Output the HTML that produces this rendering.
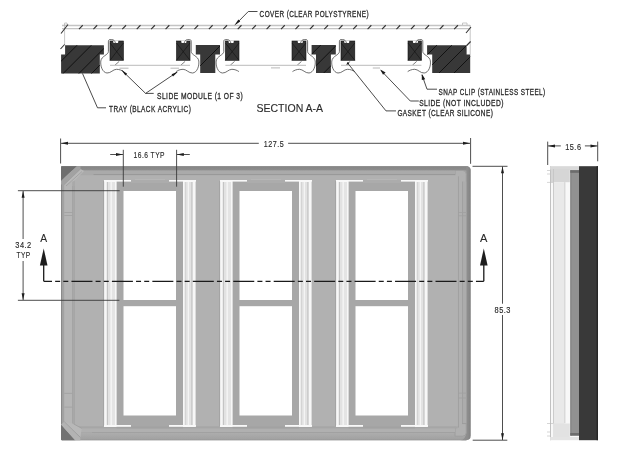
<!DOCTYPE html>
<html><head><meta charset="utf-8">
<style>
html,body{margin:0;padding:0;background:#fff;width:640px;height:457px;overflow:hidden}
svg{display:block}
text{font-family:"Liberation Sans",sans-serif;fill:#2a2a2a;stroke:#2a2a2a;stroke-width:0.3}
svg{filter:grayscale(1)}
</style></head><body>
<svg width="640" height="457" viewBox="0 0 640 457">
<defs>
</defs>

<!-- ============ SECTION A-A ============ -->
<!-- cover -->
<g stroke="#c4c4c4" stroke-width="1.3" fill="none">
<line x1="62" y1="25.5" x2="470" y2="25.5"/>
<line x1="62" y1="28.7" x2="470" y2="28.7"/>
</g>
<g stroke="#b8b8b8" stroke-width="0.8" fill="none">
<line x1="64.6" y1="24" x2="64.6" y2="45"/>
<line x1="470.2" y1="25" x2="470.2" y2="54.5"/>
<path d="M462.5,25 V23 H467 V25"/>
<path d="M64.6,25 V23 H67 V25"/>
</g>
<g stroke="#333" stroke-width="1.1" fill="none">
<path d="M79.00,29.2 L82.75,25.25 M93.43,29.2 L97.18,25.25 M107.86,29.2 L111.61,25.25 M122.29,29.2 L126.04,25.25 M136.72,29.2 L140.47,25.25 M151.15,29.2 L154.90,25.25 M165.58,29.2 L169.33,25.25 M180.01,29.2 L183.76,25.25 M194.44,29.2 L198.19,25.25 M208.87,29.2 L212.62,25.25 M223.30,29.2 L227.05,25.25 M237.73,29.2 L241.48,25.25 M252.16,29.2 L255.91,25.25 M266.59,29.2 L270.34,25.25 M281.02,29.2 L284.77,25.25 M295.45,29.2 L299.20,25.25 M309.88,29.2 L313.63,25.25 M324.31,29.2 L328.06,25.25 M338.74,29.2 L342.49,25.25 M353.17,29.2 L356.92,25.25 M367.60,29.2 L371.35,25.25 M382.03,29.2 L385.78,25.25 M396.46,29.2 L400.21,25.25 M410.89,29.2 L414.64,25.25 M425.32,29.2 L429.07,25.25 M439.75,29.2 L443.50,25.25 M454.18,29.2 L457.93,25.25 M61,33.5 L68,24.5 M466,33 L471,27 M60.5,49 L64.6,44.5 M466.7,45.5 L470.6,41.5"/>
</g>

<!-- tray blocks -->
<defs><clipPath id="ctrL"><path d="M65.1,45.3 H103.9 V54.5 H99.8 V73.4 H61.1 V54.5 H65.1 Z"/></clipPath><clipPath id="ctrR"><path d="M427.1,45.3 H466.6 V54.5 H470.2 V73 H432.2 V54.5 H427.1 Z"/></clipPath><clipPath id="ct1"><path d="M195.8,45.1 H220 V54.6 H215.3 V72.9 H200.2 V54.6 H195.8 Z"/></clipPath><clipPath id="ct2"><path d="M311.6,45.1 H335.8 V54.4 H330.9 V72.9 H316 V54.4 H311.6 Z"/></clipPath></defs>
<path d="M65.1,45.3 H103.9 V54.5 H99.8 V73.4 H61.1 V54.5 H65.1 Z" fill="#383838"/>
<path clip-path="url(#ctrL)" d="M37.3,85 L97.3,25 M51.6,85 L111.6,25 M67.4,85 L127.4,25 M80.0,85 L140.0,25" stroke="#121212" stroke-width="1" fill="none"/>
<path d="M427.1,45.3 H466.6 V54.5 H470.2 V73 H432.2 V54.5 H427.1 Z" fill="#383838"/>
<path clip-path="url(#ctrR)" d="M397.0,85 L457.0,25 M412.0,85 L472.0,25 M427.0,85 L487.0,25 M442.0,85 L502.0,25" stroke="#121212" stroke-width="1" fill="none"/>
<path d="M195.8,45.1 H220 V54.6 H215.3 V72.9 H200.2 V54.6 H195.8 Z" fill="#383838"/>
<path clip-path="url(#ct1)" d="M181.0,85 L241.0,25" stroke="#121212" stroke-width="1" fill="none"/>
<path d="M311.6,45.1 H335.8 V54.4 H330.9 V72.9 H316 V54.4 H311.6 Z" fill="#383838"/>
<path clip-path="url(#ct2)" d="M280.8,85 L340.8,25 M296.7,85 L356.7,25 M311.7,85 L371.7,25" stroke="#121212" stroke-width="1" fill="none"/>
<!-- slide module blocks -->
<g fill="#343434" stroke="#111" stroke-width="0.6">
<rect x="110" y="41" width="13.4" height="19.3"/>
<rect x="176.5" y="41" width="13.5" height="19.3"/>
<rect x="225.4" y="41" width="13.6" height="19.3"/>
<rect x="292" y="41" width="14" height="19.3"/>
<rect x="341" y="41" width="13.8" height="19.3"/>
<rect x="408" y="41" width="13.4" height="19.3"/>
</g>
<g stroke="#111" stroke-width="0.6">
<path d="M110,43 L123.4,60.3 M123.4,43 L110,60.3"/>
<path d="M176.5,43 L190,60.3 M190,43 L176.5,60.3"/>
<path d="M225.4,43 L239,60.3 M239,43 L225.4,60.3"/>
<path d="M292,43 L306,60.3 M306,43 L292,60.3"/>
<path d="M341,43 L354.8,60.3 M354.8,43 L341,60.3"/>
<path d="M408,43 L421.4,60.3 M421.4,43 L408,60.3"/>
</g>
<!-- notches -->
<g fill="#fff">
<path d="M113,40.5 L113.5,42.9 L118,42.9 L118.5,40.5 Z"/>
<path d="M228.4,40.5 L228.9,42.9 L233.4,42.9 L233.9,40.5 Z"/>
<path d="M344,40.5 L344.5,42.9 L349,42.9 L349.5,40.5 Z"/>
<path d="M181.1,40.5 L181.6,42.9 L186.1,42.9 L186.6,40.5 Z"/>
<path d="M297.5,40.5 L298,42.9 L302.5,42.9 L303,40.5 Z"/>
<path d="M412.7,40.5 L413.2,42.9 L417.7,42.9 L418.2,40.5 Z"/>
</g>
<g stroke="#555" stroke-width="0.85" fill="none">
<path d="M5.5,43.2 C4.8,40.6 3.6,39.6 1.8,39.6 L0,39.6 C-1.5,39.6 -1.6,40.8 -1.6,42 L-1.6,51.5 C-1.6,55 -8.6,56 -9.2,61 C-9.8,66 -7.5,72.6 -3,73 C1,73.2 3,69.3 6.5,69.3 C9.5,69.3 12,70.5 13.5,71.6" transform="translate(110,0)"/>
<path d="M5.5,43.2 C4.8,40.6 3.6,39.6 1.8,39.6 L0,39.6 C-1.5,39.6 -1.6,40.8 -1.6,42 L-1.6,51.5 C-1.6,55 -8.6,56 -9.2,61 C-9.8,66 -7.5,72.6 -3,73 C1,73.2 3,69.3 6.5,69.3 C9.5,69.3 12,70.5 13.5,71.6" transform="translate(225.4,0)"/>
<path d="M5.5,43.2 C4.8,40.6 3.6,39.6 1.8,39.6 L0,39.6 C-1.5,39.6 -1.6,40.8 -1.6,42 L-1.6,51.5 C-1.6,55 -8.6,56 -9.2,61 C-9.8,66 -7.5,72.6 -3,73 C1,73.2 3,69.3 6.5,69.3 C9.5,69.3 12,70.5 13.5,71.6" transform="translate(341,0)"/>
<path d="M5.5,43.2 C4.8,40.6 3.6,39.6 1.8,39.6 L0,39.6 C-1.5,39.6 -1.6,40.8 -1.6,42 L-1.6,51.5 C-1.6,55 -8.6,56 -9.2,61 C-9.8,66 -7.5,72.6 -3,73 C1,73.2 3,69.3 6.5,69.3 C9.5,69.3 12,70.5 13.5,71.6" transform="translate(189.6,0) scale(-1,1)"/>
<path d="M5.5,43.2 C4.8,40.6 3.6,39.6 1.8,39.6 L0,39.6 C-1.5,39.6 -1.6,40.8 -1.6,42 L-1.6,51.5 C-1.6,55 -8.6,56 -9.2,61 C-9.8,66 -7.5,72.6 -3,73 C1,73.2 3,69.3 6.5,69.3 C9.5,69.3 12,70.5 13.5,71.6" transform="translate(306,0) scale(-1,1)"/>
<path d="M5.5,43.2 C4.8,40.6 3.6,39.6 1.8,39.6 L0,39.6 C-1.5,39.6 -1.6,40.8 -1.6,42 L-1.6,51.5 C-1.6,55 -8.6,56 -9.2,61 C-9.8,66 -7.5,72.6 -3,73 C1,73.2 3,69.3 6.5,69.3 C9.5,69.3 12,70.5 13.5,71.6" transform="translate(421.2,0) scale(-1,1)"/>
</g>
<g stroke="#444" stroke-width="0.7">
<line x1="119.2" y1="61.4" x2="114.8" y2="65.3"/>
<line x1="234.6" y1="61.4" x2="230.20000000000002" y2="65.3"/>
<line x1="350.2" y1="61.4" x2="345.8" y2="65.3"/>
<line x1="185.1" y1="61.4" x2="180.7" y2="65.3"/>
<line x1="301.5" y1="61.4" x2="297.1" y2="65.3"/>
<line x1="416.7" y1="61.4" x2="412.3" y2="65.3"/>
</g>
<!-- slide lines -->
<g stroke="#c8c8c8" stroke-width="1.4">
<line x1="110" y1="65.4" x2="190" y2="65.4"/>
<line x1="225.4" y1="65.4" x2="306" y2="65.4"/>
<line x1="341" y1="65.4" x2="421.4" y2="65.4"/>
</g>

<!-- leaders -->
<g stroke="#2a2a2a" stroke-width="0.85" fill="none">
<path d="M257.5,11.5 H248.3 L236,24"/>
<path d="M153.7,93.4 H145.6 L122.5,71 M145.6,93.4 L177,72.2"/>
<path d="M106,107.8 H97.5 L82.5,73.5"/>
<path d="M396,110.9 H386 L347.9,63.4"/>
<path d="M418.8,101 H410.3 L381,70.5"/>
<path d="M437,89.2 H427 L422,75"/>
</g>
<g fill="#1a1a1a">
<path d="M234.3,25.4 L238.4,19.6 L240.2,21.4 Z"/>
<path d="M121.3,69.8 L127.2,73.8 L125.4,75.6 Z"/>
<path d="M178.1,71.4 L173,76.4 L171.6,74.2 Z"/>
<circle cx="347.9" cy="63.4" r="1.1"/>
<path d="M380.3,69.6 L385.6,72.4 L383,74.8 Z"/>
<path d="M421.8,73.8 L425.2,79.2 L421.8,80 Z"/>
</g>
<g stroke="#b0b0b0" stroke-width="0.9">
<line x1="119.5" y1="68.2" x2="128.5" y2="68.2"/>
<line x1="170.5" y1="68.2" x2="179" y2="68.2"/>
<line x1="271" y1="67.9" x2="280" y2="67.9"/>
<line x1="372.8" y1="68" x2="380" y2="68"/>
</g>

<!-- ============ PLAN VIEW ============ -->
<g id="plan">
<defs>
<linearGradient id="gbot" x1="0" y1="0" x2="0" y2="1">
<stop offset="0" stop-color="#adadad"/><stop offset="0.75" stop-color="#a2a2a2"/><stop offset="0.9" stop-color="#979797"/><stop offset="1" stop-color="#878787"/>
</linearGradient>
<linearGradient id="gtop" x1="0" y1="0" x2="0" y2="1">
<stop offset="0" stop-color="#7c7c7c"/><stop offset="0.3" stop-color="#878787"/><stop offset="1" stop-color="#8e8e8e"/>
</linearGradient>
<linearGradient id="gright" x1="0" y1="0" x2="1" y2="0">
<stop offset="0" stop-color="#939393"/><stop offset="0.7" stop-color="#8d8d8d"/><stop offset="1" stop-color="#808080"/>
</linearGradient>
<clipPath id="trayclip"><path d="M62.2,166.3 H466 Q470.6,166.3 470.6,170.9 V435.6 Q470.6,440.2 466,440.2 H62.2 Q61,440.2 61,439 V167.5 Q61,166.3 62.2,166.3 Z"/></clipPath>
</defs>
<g clip-path="url(#trayclip)">
<rect x="61" y="166" width="410" height="275" fill="#a9a9a9"/>
<!-- top band -->
<rect x="61" y="166" width="410" height="4.6" fill="url(#gtop)"/>
<!-- bottom outer band + right strip -->
<rect x="61" y="432.9" width="406" height="8" fill="url(#gbot)"/>
<path d="M466.3,166 H471 V441 H460 Q466.3,438.5 466.3,432 Z" fill="url(#gright)"/>
<!-- right pad -->
<path d="M455,170.4 H462.5 Q466.3,170.4 466.3,174.2 V432.4 Q466.3,436.2 462.5,436.2 H455 Z" fill="#b0b0b0" stroke="#9a9a9a" stroke-width="0.8"/>
<rect x="457.8" y="176.5" width="1" height="251" fill="#9a9a9a"/>
<rect x="458.8" y="176.5" width="3.5" height="250" fill="#b0b0b0"/>
<rect x="462.3" y="181.5" width="0.9" height="242.5" fill="#9a9a9a"/>
<rect x="463.2" y="181.5" width="3" height="242.5" fill="#acacac"/>
<rect x="462.3" y="423.2" width="4.8" height="0.9" fill="#9a9a9a"/>
<g fill="#a0a0a0"><rect x="458.5" y="212.2" width="8.5" height="0.8"/><rect x="458.5" y="215.4" width="8.5" height="0.8"/>
<rect x="458.5" y="392.7" width="8.5" height="0.8"/><rect x="458.5" y="397.6" width="8.5" height="0.8"/></g>
<!-- top light band -->
<rect x="63" y="170.6" width="392" height="3.7" fill="#aaaaaa"/>
<rect x="93.5" y="174.3" width="361.5" height="0.9" fill="#939393"/>
<!-- bottom bands -->
<rect x="74" y="426.3" width="383.6" height="2.1" fill="#a6a6a6"/>
<rect x="63" y="428.4" width="392" height="3.7" fill="#b0b0b0"/>
<rect x="92" y="432.1" width="363" height="0.8" fill="#a0a0a0"/>
<!-- left bands -->
<rect x="61" y="166" width="1.3" height="275" fill="#8a8a8a"/>
<rect x="62.3" y="170" width="2" height="263" fill="#a2a2a2"/>
<rect x="64.3" y="170" width="7.9" height="262" fill="#b5b5b5"/>
<rect x="72.2" y="186" width="0.9" height="238" fill="#a2a2a2"/>
<rect x="74" y="186" width="0.8" height="238" fill="#a6a6a6"/>
<g fill="#a0a0a0"><rect x="64.3" y="212.2" width="8" height="0.8"/><rect x="64.3" y="215.1" width="8" height="0.8"/>
<rect x="64.3" y="392.9" width="8" height="0.8"/><rect x="64.3" y="406.7" width="8" height="0.8"/></g>
<!-- inner floor -->
<rect x="75" y="175.2" width="382.8" height="251.1" fill="#b1b1b1"/>
<!-- corners -->
<path d="M61,166 L77,166 L61,181 Z" fill="#6e6e6e"/>
<path d="M77,166 L80.5,166 L80.5,169 L64.3,184.5 L61,184.5 L61,181 Z" fill="#a2a2a2"/>
<path d="M80.5,169 L84,171 L74,181 L64.3,184.5 Z" fill="#b9b9b9"/>
<path d="M61,424.5 L75.8,441 L61,441 Z" fill="#727272"/>
<path d="M61,424.5 L64.4,421.8 L80.4,437.4 L80.4,441 L75.8,441 Z" fill="#b3b3b3"/>
<path d="M64.4,421.8 L73.5,423.8 L81.7,428.4 L80.4,437.4 Z" fill="#b8b8b8"/>
<g stroke="#9a9a9a" stroke-width="0.7" fill="none">
<path d="M64.3,184.5 L80.5,169"/>
<path d="M66,186 L82,171.5"/>
<path d="M64.4,421.8 L80.4,437.4"/>
<path d="M73.5,423.8 L81.7,428.4"/>
</g>
</g>
<g>
<rect x="116.5" y="180" width="66.5" height="247" fill="#a7a7a7"/>
<rect x="104" y="180" width="12.6" height="247" fill="#f7f7f7"/>
<rect x="103.3" y="181" width="0.8" height="245" fill="#9e9e9e"/>
<rect x="195.6" y="181" width="0.7" height="245" fill="#b4b4b4"/>
<rect x="106.8" y="182" width="1.2" height="243" fill="#c4c4c4"/>
<rect x="108" y="182" width="2.5" height="243" fill="#e2e2e2"/>
<rect x="111.8" y="182" width="3.2" height="243" fill="#e4e4e4"/>
<rect x="183" y="180" width="12.6" height="247" fill="#f7f7f7"/>
<rect x="184.7" y="182" width="1.4" height="243" fill="#d4d4d4"/>
<rect x="186.1" y="182" width="1.6" height="243" fill="#e0e0e0"/>
<rect x="188.9" y="182" width="2.3" height="243" fill="#e2e2e4"/>
<rect x="191.2" y="182" width="1.4" height="243" fill="#c4c4c4"/>
<rect x="131" y="180" width="38" height="3" fill="#acacac"/>
<rect x="135" y="179.2" width="30" height="0.8" fill="#bababa"/>
<rect x="104" y="180" width="27" height="1.6" fill="#f8f8f8"/>
<rect x="169" y="180" width="27" height="1.6" fill="#f8f8f8"/>
<rect x="116.5" y="426.5" width="66.5" height="2" fill="#a2a2a2"/>
<rect x="104" y="425" width="27" height="1.8" fill="#f8f8f8"/>
<rect x="169" y="425" width="27" height="1.8" fill="#f8f8f8"/>
<rect x="123.5" y="191" width="52.5" height="109" fill="#fff"/>
<rect x="123.5" y="306.2" width="52.5" height="109.3" fill="#fff"/>
</g>
<g transform="translate(116,0)">
<rect x="116.5" y="180" width="66.5" height="247" fill="#a7a7a7"/>
<rect x="104" y="180" width="12.6" height="247" fill="#f7f7f7"/>
<rect x="103.3" y="181" width="0.8" height="245" fill="#9e9e9e"/>
<rect x="195.6" y="181" width="0.7" height="245" fill="#b4b4b4"/>
<rect x="106.8" y="182" width="1.2" height="243" fill="#c4c4c4"/>
<rect x="108" y="182" width="2.5" height="243" fill="#e2e2e2"/>
<rect x="111.8" y="182" width="3.2" height="243" fill="#e4e4e4"/>
<rect x="183" y="180" width="12.6" height="247" fill="#f7f7f7"/>
<rect x="184.7" y="182" width="1.4" height="243" fill="#d4d4d4"/>
<rect x="186.1" y="182" width="1.6" height="243" fill="#e0e0e0"/>
<rect x="188.9" y="182" width="2.3" height="243" fill="#e2e2e4"/>
<rect x="191.2" y="182" width="1.4" height="243" fill="#c4c4c4"/>
<rect x="131" y="180" width="38" height="3" fill="#acacac"/>
<rect x="135" y="179.2" width="30" height="0.8" fill="#bababa"/>
<rect x="104" y="180" width="27" height="1.6" fill="#f8f8f8"/>
<rect x="169" y="180" width="27" height="1.6" fill="#f8f8f8"/>
<rect x="116.5" y="426.5" width="66.5" height="2" fill="#a2a2a2"/>
<rect x="104" y="425" width="27" height="1.8" fill="#f8f8f8"/>
<rect x="169" y="425" width="27" height="1.8" fill="#f8f8f8"/>
<rect x="123.5" y="191" width="52.5" height="109" fill="#fff"/>
<rect x="123.5" y="306.2" width="52.5" height="109.3" fill="#fff"/>
</g>
<g transform="translate(232,0)">
<rect x="116.5" y="180" width="66.5" height="247" fill="#a7a7a7"/>
<rect x="104" y="180" width="12.6" height="247" fill="#f7f7f7"/>
<rect x="103.3" y="181" width="0.8" height="245" fill="#9e9e9e"/>
<rect x="195.6" y="181" width="0.7" height="245" fill="#b4b4b4"/>
<rect x="106.8" y="182" width="1.2" height="243" fill="#c4c4c4"/>
<rect x="108" y="182" width="2.5" height="243" fill="#e2e2e2"/>
<rect x="111.8" y="182" width="3.2" height="243" fill="#e4e4e4"/>
<rect x="183" y="180" width="12.6" height="247" fill="#f7f7f7"/>
<rect x="184.7" y="182" width="1.4" height="243" fill="#d4d4d4"/>
<rect x="186.1" y="182" width="1.6" height="243" fill="#e0e0e0"/>
<rect x="188.9" y="182" width="2.3" height="243" fill="#e2e2e4"/>
<rect x="191.2" y="182" width="1.4" height="243" fill="#c4c4c4"/>
<rect x="131" y="180" width="38" height="3" fill="#acacac"/>
<rect x="135" y="179.2" width="30" height="0.8" fill="#bababa"/>
<rect x="104" y="180" width="27" height="1.6" fill="#f8f8f8"/>
<rect x="169" y="180" width="27" height="1.6" fill="#f8f8f8"/>
<rect x="116.5" y="426.5" width="66.5" height="2" fill="#a2a2a2"/>
<rect x="104" y="425" width="27" height="1.8" fill="#f8f8f8"/>
<rect x="169" y="425" width="27" height="1.8" fill="#f8f8f8"/>
<rect x="123.5" y="191" width="52.5" height="109" fill="#fff"/>
<rect x="123.5" y="306.2" width="52.5" height="109.3" fill="#fff"/>
</g>
</g>

<!-- ============ SIDE VIEW ============ -->
<g id="side">
<rect x="550.1" y="166.2" width="28.9" height="274" fill="#f8f8f8"/>
<rect x="550.1" y="166.2" width="0.9" height="274" fill="#bcbcbc"/>
<rect x="550.1" y="166.2" width="28.9" height="2.8" fill="#d9d9d9"/>
<rect x="550.5" y="169" width="28.5" height="1.2" fill="#d9d9d9"/>
<rect x="551" y="169" width="18.8" height="13.2" fill="#d6d6d6"/>
<rect x="553" y="182.2" width="11.4" height="255" fill="#e9e9eb"/>
<rect x="553" y="169" width="0.8" height="268" fill="#c4c4c4"/>
<rect x="564.4" y="182.2" width="0.9" height="241" fill="#c8c8c8"/>
<rect x="553" y="423.5" width="16.8" height="13.5" fill="#e2e2e2"/>
<rect x="550.1" y="437" width="28.9" height="3.2" fill="#e4e4e4"/>
<rect x="570.3" y="170.2" width="8.7" height="265.4" fill="#919191"/>
<rect x="570.3" y="170.2" width="1.6" height="265.4" fill="#8a8a8a"/>
<rect x="570.3" y="170.2" width="8.7" height="2.6" fill="#6c6c6c"/>
<rect x="570.3" y="433" width="8.7" height="2.6" fill="#6c6c6c"/>
<rect x="579" y="166.2" width="19" height="274" fill="#393939"/>
<rect x="596.6" y="166.2" width="1.4" height="274" fill="#262626"/>
<g stroke="#bbb" stroke-width="0.6">
<line x1="547" y1="170.5" x2="550" y2="170.5"/>
<line x1="547" y1="174" x2="550" y2="174"/>
<line x1="547" y1="182.4" x2="553" y2="182.4"/>
<line x1="547" y1="423.5" x2="553" y2="423.5"/>
<line x1="547" y1="432" x2="550" y2="432"/>
<line x1="547" y1="436" x2="550" y2="436"/>
</g>
</g>

<!-- ============ DIMENSIONS ============ -->
<g stroke="#3a3a3a" stroke-width="0.9" fill="none">
<!-- 127.5 -->
<line x1="60.6" y1="138.5" x2="60.6" y2="163.5"/>
<line x1="470.6" y1="138" x2="470.6" y2="163.8"/>
<line x1="61" y1="143.3" x2="258.8" y2="143.3"/>
<line x1="288.1" y1="143.3" x2="470" y2="143.3"/>
<!-- 16.6 -->
<line x1="123.3" y1="149.8" x2="123.3" y2="186.7"/>
<line x1="176.6" y1="149.8" x2="176.6" y2="186.7"/>
<line x1="110.2" y1="154.5" x2="123" y2="154.5"/>
<line x1="176.8" y1="154.5" x2="189.8" y2="154.5"/>
<!-- 34.2 -->
<line x1="17.9" y1="190.7" x2="119.7" y2="190.7"/>
<line x1="17.9" y1="300.3" x2="119.4" y2="300.3"/>
<line x1="23.1" y1="191" x2="23.1" y2="239"/>
<line x1="23.1" y1="261" x2="23.1" y2="300"/>
<!-- 85.3 -->
<line x1="472.5" y1="166.3" x2="507.5" y2="166.3"/>
<line x1="472.7" y1="440.2" x2="507.3" y2="440.2"/>
<line x1="502.5" y1="166.5" x2="502.5" y2="303.7"/>
<line x1="502.5" y1="315" x2="502.5" y2="440"/>
<!-- 15.6 -->
<line x1="547.7" y1="141.6" x2="547.7" y2="165"/>
<line x1="597.7" y1="141.6" x2="597.7" y2="161.3"/>
<line x1="548" y1="145.9" x2="560.8" y2="145.9"/>
<line x1="584.9" y1="145.9" x2="597.5" y2="145.9"/>
</g>
<g fill="#1e1e1e">
<!-- arrowheads: tip first -->
<path d="M61,143.3 L68,141.8 L68,144.8 Z"/>
<path d="M470.2,143.3 L463,141.8 L463,144.8 Z"/>
<path d="M123,154.5 L116,153 L116,156 Z"/>
<path d="M176.8,154.5 L183.8,153 L183.8,156 Z"/>
<path d="M23.1,191 L21.6,197.8 L24.6,197.8 Z"/>
<path d="M23.1,300 L21.6,293.3 L24.6,293.3 Z"/>
<path d="M502.5,166.5 L501,173.2 L504,173.2 Z"/>
<path d="M502.5,440 L501,433.2 L504,433.2 Z"/>
<path d="M548,145.9 L555,144.4 L555,147.4 Z"/>
<path d="M597.5,145.9 L590.5,144.4 L590.5,147.4 Z"/>
<!-- section arrows -->
<path d="M43.7,248.4 L39.9,265.6 L47.5,265.6 Z"/>
<path d="M483.8,248.4 L480,265.6 L487.6,265.6 Z"/>
</g>
<!-- section line -->
<g stroke="#1a1a1a" stroke-width="1.3" fill="none">
<line x1="43.7" y1="265" x2="43.7" y2="281.3"/>
<line x1="483.8" y1="265" x2="483.8" y2="281.3"/>
<line x1="43.7" y1="281.3" x2="483.8" y2="281.3" stroke-dasharray="21 3.15 5 3.15 5 3.15" stroke-dashoffset="12.7"/>
</g>

<!-- ============ TEXT ============ -->
<g font-size="8.8" letter-spacing="0.6">
<text x="259.6" y="16.5" textLength="109.5" lengthAdjust="spacingAndGlyphs">COVER (CLEAR POLYSTYRENE)</text>
<text x="157" y="99" textLength="86.2" lengthAdjust="spacingAndGlyphs">SLIDE MODULE (1 OF 3)</text>
<text x="109" y="112.4" textLength="82.3" lengthAdjust="spacingAndGlyphs">TRAY (BLACK ACRYLIC)</text>
<text x="438.6" y="94.6" textLength="107.0" lengthAdjust="spacingAndGlyphs">SNAP CLIP (STAINLESS STEEL)</text>
<text x="419.2" y="105.8" textLength="84.7" lengthAdjust="spacingAndGlyphs">SLIDE (NOT INCLUDED)</text>
<text x="397.4" y="116.4" textLength="95.9" lengthAdjust="spacingAndGlyphs">GASKET (CLEAR SILICONE)</text>
<text style="stroke-width:0.15" x="263.75" y="146.9" textLength="20.4" lengthAdjust="spacingAndGlyphs">127.5</text>
<text style="stroke-width:0.15" x="133.6" y="158.1" textLength="31.4" lengthAdjust="spacingAndGlyphs">16.6 TYP</text>
<text style="stroke-width:0.15" x="15.25" y="247.7" textLength="16.5" lengthAdjust="spacingAndGlyphs">34.2</text>
<text style="stroke-width:0.15" x="16.6" y="258.2" textLength="14.1" lengthAdjust="spacingAndGlyphs">TYP</text>
<text style="stroke-width:0.15" x="494.5" y="313" textLength="16.5" lengthAdjust="spacingAndGlyphs">85.3</text>
<text style="stroke-width:0.15" x="565.2" y="149.8" textLength="16.3" lengthAdjust="spacingAndGlyphs">15.6</text>
</g>
<g font-size="11.2">
<text style="stroke-width:0.1" x="40.3" y="241.8" textLength="6.9" lengthAdjust="spacingAndGlyphs">A</text>
<text style="stroke-width:0.1" x="479.9" y="242" textLength="7.4" lengthAdjust="spacingAndGlyphs">A</text>
</g>
<text x="256.5" y="112.25" font-size="11" style="stroke-width:0.12" textLength="66.6" lengthAdjust="spacingAndGlyphs">SECTION A-A</text>
</svg>
</body></html>
